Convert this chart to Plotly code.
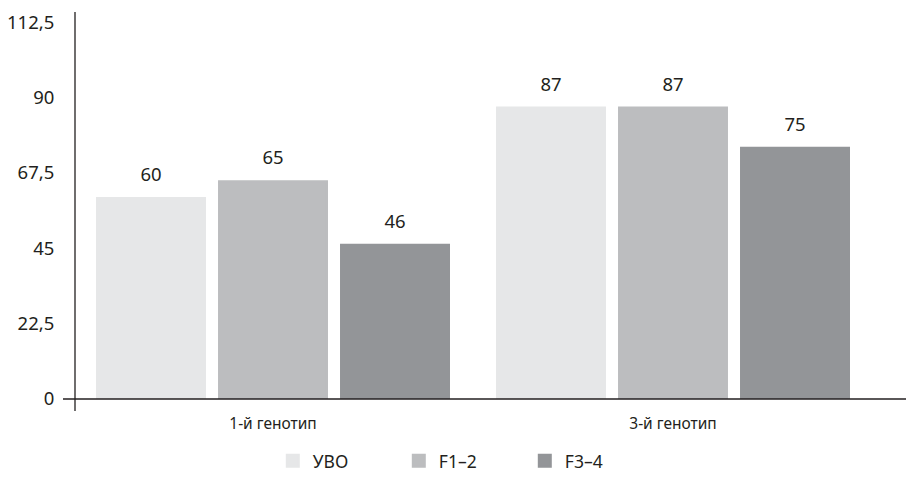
import plotly.graph_objects as go

categories = ["1-й генотип", "3-й генотип"]
series_names = ["УВО", "F1–2", "F3–4"]
uvo = [60, 87]
f12 = [65, 87]
f34 = [46, 75]
colors = ["#e6e7e8", "#bcbdbf", "#939598"]
tick_vals = [0, 22.5, 45, 67.5, 90, 112.5]
tick_text = ["0", "22,5", "45", "67,5", "90", "112,5"]

FONT = "Noto Sans"
TXT = "#231f20"
fig = go.Figure()
for name, vals, col in zip(series_names, [uvo, f12, f34], colors):
    fig.add_trace(go.Bar(
        x=categories, y=vals, name=name, marker=dict(color=col, line=dict(width=2, color=col)),
    ))
for name, vals in zip(series_names, [uvo, f12, f34]):
    fig.add_trace(go.Scatter(
        x=categories, y=vals, mode="markers+text", showlegend=False,
        marker=dict(size=18, color="rgba(0,0,0,0)"),
        text=[str(v) for v in vals], textposition="top center",
        textfont=dict(family=FONT, size=18.5, color=TXT),
        cliponaxis=False, hoverinfo="skip",
    ))

fig.update_layout(
    width=914, height=480,
    margin=dict(l=65, r=49, t=4, b=89, autoexpand=False),
    paper_bgcolor="white", plot_bgcolor="white",
    barmode="group", bargap=0.085, bargroupgap=0.115,
    scattermode="group", scattergap=0.085,
    font=dict(family=FONT, size=15, color=TXT),
    showlegend=True,
    legend=dict(orientation="h", x=0.486, xanchor="center", y=-0.16, yanchor="middle",
                font=dict(family=FONT, size=17.5, color=TXT),
                entrywidth=81, entrywidthmode="pixels", traceorder="normal"),
    xaxis=dict(showline=False, showgrid=False, zeroline=False, ticks="outside",
               ticklen=10, tickcolor="rgba(0,0,0,0)",
               tickfont=dict(family=FONT, size=15.5, color=TXT), fixedrange=True),
    yaxis=dict(range=[0, 115.5], tickvals=tick_vals, ticktext=tick_text,
               showline=False, showgrid=False, zeroline=False, ticks="outside",
               ticklen=14, tickcolor="rgba(0,0,0,0)",
               tickfont=dict(family=FONT, size=18.5, color=TXT)),
)
# axis lines
fig.add_shape(type="line", xref="paper", yref="paper", x0=-0.0125, x1=1.07, y0=0, y1=0,
              line=dict(color=TXT, width=1.3))
fig.add_shape(type="line", xref="paper", yref="paper", x0=0.0025, x1=0.0025, y0=-0.031, y1=1,
              line=dict(color=TXT, width=1.3))
fig.write_html("out.html")
